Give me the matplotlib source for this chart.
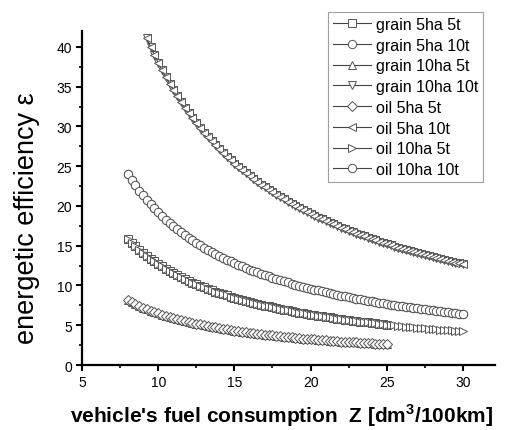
import matplotlib
matplotlib.use("Agg")
import matplotlib.pyplot as plt
from matplotlib.ticker import MultipleLocator

plt.rcParams['font.family'] = ['Liberation Sans', 'DejaVu Sans']
plt.rcParams['mathtext.fontset'] = 'custom'
plt.rcParams['mathtext.rm'] = 'Liberation Sans'
plt.rcParams['mathtext.bf'] = 'Liberation Sans:bold'

# fuel consumption Z [dm3/100km]
Z = [8.00, 8.25, 8.50, 8.75, 9.00, 9.25, 9.50, 9.75, 10.00, 10.25, 10.50, 10.75,
     11.00, 11.25, 11.50, 11.75, 12.00, 12.25, 12.50, 12.75, 13.00, 13.25, 13.50, 13.75,
     14.00, 14.25, 14.50, 14.75, 15.00, 15.25, 15.50, 15.75, 16.00, 16.25, 16.50, 16.75,
     17.00, 17.25, 17.50, 17.75, 18.00, 18.25, 18.50, 18.75, 19.00, 19.25, 19.50, 19.75,
     20.00, 20.25, 20.50, 20.75, 21.00, 21.25, 21.50, 21.75, 22.00, 22.25, 22.50, 22.75,
     23.00, 23.25, 23.50, 23.75, 24.00, 24.25, 24.50, 24.75, 25.00, 25.25, 25.50, 25.75,
     26.00, 26.25, 26.50, 26.75, 27.00, 27.25, 27.50, 27.75, 28.00, 28.25, 28.50, 28.75,
     29.00, 29.25, 29.50, 29.75, 30.00]

# upper curve starts at Z = 9.25
eps_top = [41.08, 40.00, 38.97, 38.00, 37.07, 36.19, 35.35,
           34.55, 33.78, 33.04, 32.34, 31.67, 31.02, 30.40, 29.80, 29.23, 28.68, 28.15, 27.64,
           27.14, 26.67, 26.21, 25.76, 25.33, 24.92, 24.52, 24.13, 23.75, 23.38, 23.03, 22.69,
           22.35, 22.03, 21.71, 21.41, 21.11, 20.82, 20.54, 20.27, 20.00, 19.74, 19.49, 19.24,
           19.00, 18.77, 18.54, 18.31, 18.10, 17.88, 17.67, 17.47, 17.27, 17.08, 16.89, 16.70,
           16.52, 16.34, 16.17, 16.00, 15.83, 15.67, 15.51, 15.35, 15.20, 15.05, 14.90, 14.76,
           14.62, 14.48, 14.34, 14.21, 14.07, 13.94, 13.82, 13.69, 13.57, 13.45, 13.33, 13.22,
           13.10, 12.99, 12.88, 12.77, 12.67]
Z_top = Z[len(Z) - len(eps_top):]

eps_circ = [24.00, 23.27, 22.59, 21.94, 21.33, 20.76, 20.21, 19.69, 19.20, 18.73, 18.29, 17.86,
            17.45, 17.07, 16.70, 16.34, 16.00, 15.67, 15.36, 15.06, 14.77, 14.49, 14.22, 13.96,
            13.71, 13.47, 13.24, 13.02, 12.80, 12.59, 12.39, 12.19, 12.00, 11.82, 11.64, 11.46,
            11.29, 11.13, 10.97, 10.82, 10.67, 10.52, 10.38, 10.24, 10.11, 9.97, 9.85, 9.72,
            9.60, 9.48, 9.37, 9.25, 9.14, 9.04, 8.93, 8.83, 8.73, 8.63, 8.53, 8.44,
            8.35, 8.26, 8.17, 8.08, 8.00, 7.92, 7.84, 7.76, 7.68, 7.60, 7.53, 7.46,
            7.38, 7.31, 7.25, 7.18, 7.11, 7.05, 6.98, 6.92, 6.86, 6.80, 6.74, 6.68,
            6.62, 6.56, 6.51, 6.45, 6.40]

eps_mid = [15.88, 15.39, 14.94, 14.51, 14.11, 13.73, 13.37, 13.03, 12.70, 12.39, 12.10, 11.81,
           11.55, 11.29, 11.04, 10.81, 10.58, 10.37, 10.16, 9.96, 9.77, 9.58, 9.41, 9.24,
           9.07, 8.91, 8.76, 8.61, 8.47, 8.33, 8.19, 8.06, 7.94, 7.82, 7.70, 7.58,
           7.47, 7.36, 7.26, 7.15, 7.06, 6.96, 6.86, 6.77, 6.68, 6.60, 6.51, 6.43,
           6.35, 6.27, 6.20, 6.12, 6.05, 5.98, 5.91, 5.84, 5.77, 5.71, 5.64, 5.58,
           5.52, 5.46, 5.40, 5.35, 5.29, 5.24, 5.18, 5.13, 5.08, 5.03, 4.98, 4.93,
           4.88, 4.84, 4.79, 4.75, 4.70, 4.66, 4.62, 4.58, 4.54, 4.50, 4.46, 4.42,
           4.38, 4.34, 4.31, 4.27, 4.23]

# lowest curve only reaches Z = 25
eps_low = [8.13, 7.88, 7.65, 7.43, 7.22, 7.03, 6.84, 6.67, 6.50, 6.34, 6.19, 6.05,
           5.91, 5.78, 5.65, 5.53, 5.42, 5.31, 5.20, 5.10, 5.00, 4.91, 4.81, 4.73,
           4.64, 4.56, 4.48, 4.41, 4.33, 4.26, 4.19, 4.13, 4.06, 4.00, 3.94, 3.88,
           3.82, 3.77, 3.71, 3.66, 3.61, 3.56, 3.51, 3.47, 3.42, 3.38, 3.33, 3.29,
           3.25, 3.21, 3.17, 3.13, 3.10, 3.06, 3.02, 2.99, 2.95, 2.92, 2.89, 2.86,
           2.83, 2.80, 2.77, 2.74, 2.71, 2.68, 2.65, 2.63, 2.60]
n25 = len(eps_low)

labels = ['grain 5ha 5t', 'grain 5ha 10t', 'grain 10ha 5t', 'grain 10ha 10t',
          'oil 5ha 5t', 'oil 5ha 10t', 'oil 10ha 5t', 'oil 10ha 10t']
markers = ['s', 'o', '^', 'v', 'D', '<', '>', 'o']
series = [(Z[:n25], eps_mid[:n25]), (Z, eps_circ), (Z[:n25], eps_low), (Z_top, eps_top),
          (Z[:n25], eps_low), (Z_top, eps_top), (Z, eps_mid), (Z, eps_circ)]

fig = plt.figure(figsize=(5.08, 4.31), dpi=100)
ax = fig.add_axes([0.1614, 0.1508, 0.813, 0.775])

for (x, y), m, lab in zip(series, markers, labels):
    ms = 5.2 if m == 'D' else 6
    ax.plot(x, y, color='#444444', lw=0.8, marker=m, ms=ms, mfc='white',
            mec='#555555', mew=0.7, label=lab)

ax.set_xlim(5, 32.1)
ax.set_ylim(0, 42)
ax.xaxis.set_major_locator(MultipleLocator(5))
ax.xaxis.set_minor_locator(MultipleLocator(2.5))
ax.yaxis.set_major_locator(MultipleLocator(5))
ax.yaxis.set_minor_locator(MultipleLocator(2.5))

for s in ['top', 'right']:
    ax.spines[s].set_visible(False)
for s in ['left', 'bottom']:
    ax.spines[s].set_linewidth(1.6)
ax.tick_params(which='major', direction='out', length=4, width=1.5, labelsize=10, pad=3)
ax.tick_params(which='minor', direction='out', length=2.5, width=1.2)

ax.set_ylabel('energetic efficiency \u03b5', fontsize=19.5)
ax.yaxis.set_label_coords(-0.102, 0.443)
ax.set_xlabel(r"vehicle's fuel consumption  Z [dm$^{\mathbf{3}}$/100km]",
              fontsize=15, fontweight='bold')
ax.xaxis.set_label_coords(0.484, -0.108)

leg = ax.legend(loc='upper right', bbox_to_anchor=(483 / 508, 1 - 13 / 431),
                bbox_transform=fig.transFigure, fontsize=11.5, frameon=True,
                fancybox=False, handlelength=2.4, handletextpad=0.3,
                labelspacing=0.36, borderpad=0.3, borderaxespad=0)
leg.get_frame().set_edgecolor('#888888')
leg.get_frame().set_linewidth(0.8)

fig.savefig('out.png', dpi=100)
